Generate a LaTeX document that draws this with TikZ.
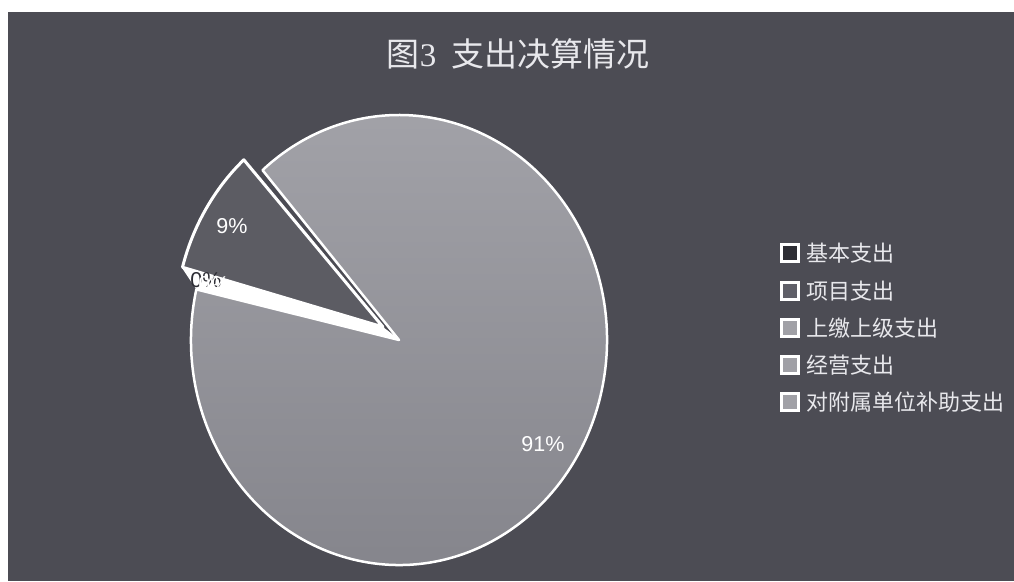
\documentclass[tikz,border=0pt]{standalone}
\usepackage{fontspec}
\setmainfont{Liberation Sans}
\newfontfamily\cjk{Noto Sans CJK SC}
\newfontfamily\tnr{Liberation Serif}
\definecolor{bgc}{RGB}{76,76,84}
\definecolor{pietop}{RGB}{162,162,168}
\definecolor{piebot}{RGB}{132,132,139}
\definecolor{darkslice}{RGB}{92,92,99}
\definecolor{txtc}{RGB}{232,232,236}
\definecolor{legdark}{RGB}{45,45,52}
\definecolor{legmid}{RGB}{95,95,104}
\definecolor{leglight}{RGB}{160,160,166}
\tikzset{
  legbox/.style={draw=white, line width=2.2pt, minimum size=17pt, inner sep=0pt},
  legtext/.style={anchor=west, text=txtc, font=\cjk\fontsize{22}{22}\selectfont, inner sep=0pt},
  pctlabel/.style={text=white, font=\fontsize{21.5}{22}\selectfont, inner sep=0pt}
}
\begin{document}
\begin{tikzpicture}[x=1pt,y=1pt]
\useasboundingbox (0,0) rectangle (1014,581);
\fill[white] (0,0) rectangle (1014,581);
\fill[bgc] (8,0) rectangle (1014,569);

% title
\node[text=txtc, font=\fontsize{33}{33}\selectfont, inner sep=0pt] (title) at (518,527)
  {{\cjk 图}{\tnr 3}\hspace{0.45em}{\cjk 支出决算情况}};

% big slice (91%)
\coordinate (bigc) at (399,241);
\shade[top color=pietop, bottom color=piebot]
  (bigc) -- ++(167:208pt and 225pt) arc[start angle=167, end angle=491, x radius=208pt, y radius=225pt] -- cycle;
\draw[white, line width=2.5pt, line join=round]
  (bigc) -- ++(167:208pt and 225pt) arc[start angle=167, end angle=491, x radius=208pt, y radius=225pt] -- cycle;

% white band below exploded slice
\fill[white] (182,313) -- (383,254) -- (400,241) -- (196,292) -- cycle;

% exploded slice (9%)
\coordinate (smallc) at (383,254);
\filldraw[fill=darkslice, draw=white, line width=3pt, line join=round]
  (smallc) -- ++(132:208pt and 225pt) arc[start angle=132, end angle=164.6, x radius=208pt, y radius=225pt] -- cycle;

% percentage labels
\node[pctlabel] (p9) at (232,355) {9\%};
\node[pctlabel] (p91) at (543,137) {91\%};
\node[pctlabel, text=legdark] (p0a) at (206,301) {0\%};
\node[pctlabel] (p0b) at (214,297) {0\%};

% legend
\node[legbox, fill=legdark] (l1) at (790,328) {};
\node[legtext] (t1) at (806,328) {基本支出};
\node[legbox, fill=legmid] (l2) at (790,290) {};
\node[legtext] (t2) at (806,290) {项目支出};
\node[legbox, fill=leglight] (l3) at (790,253) {};
\node[legtext] (t3) at (806,253) {上缴上级支出};
\node[legbox, fill=leglight] (l4) at (790,216) {};
\node[legtext] (t4) at (806,216) {经营支出};
\node[legbox, fill=leglight] (l5) at (790,179) {};
\node[legtext] (t5) at (806,179) {对附属单位补助支出};
\end{tikzpicture}
\end{document}
